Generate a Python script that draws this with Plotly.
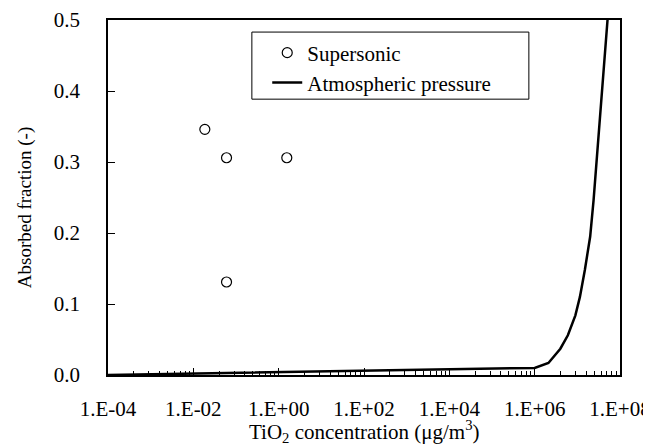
import plotly.graph_objects as go

# Supersonic measurements
sup_x = [0.0186, 0.06, 1.55, 0.06]
sup_y = [0.346, 0.306, 0.306, 0.131]

# Atmospheric pressure curve
atm_x = [1e-4, 1e-2, 1e0, 1e2, 1e4, 1e6, 2.1e6, 4e6, 6e6, 9e6, 1.15e7, 1.5e7, 2e7, 2.4e7, 5.1e7]
atm_y = [0.000, 0.002, 0.003, 0.005, 0.007, 0.010, 0.017, 0.037, 0.056, 0.084, 0.110, 0.148, 0.195, 0.246, 0.500]

x_tickvals = [1e-4, 1e-2, 1e0, 1e2, 1e4, 1e6, 1e8]
x_ticktext = ["1.E-04", "1.E-02", "1.E+00", "1.E+02", "1.E+04", "1.E+06", "1.E+08"]
minor_mult = [4, 9, 16, 25, 36, 49, 64, 81]
y_tickvals = [0.0, 0.1, 0.2, 0.3, 0.4, 0.5]
y_ticktext = ["0.0", "0.1", "0.2", "0.3", "0.4", "0.5"]

minor_vals = [m * v for v in x_tickvals[:-1] for m in minor_mult]

FONT = "Liberation Serif, Times New Roman, serif"

fig = go.Figure()
fig.add_trace(go.Scatter(
    x=sup_x, y=sup_y, mode="markers", name="Supersonic", legend="legend",
    marker=dict(symbol="circle-open", size=10, color="black", line=dict(width=1.2, color="black")),
))
fig.add_trace(go.Scatter(
    x=atm_x, y=atm_y, mode="lines", name="Atmospheric pressure", legend="legend2",
    line=dict(color="black", width=2.5),
))

leg_common = dict(xanchor="left", yanchor="middle", bgcolor="rgba(0,0,0,0)", borderwidth=0,
                  font=dict(family=FONT, size=21, color="black"), itemwidth=30)

# the page body adds an 8px offset, so the figure is 8px smaller on each leading edge
fig.update_layout(
    width=643, height=437,
    margin=dict(l=100, r=31, t=12, b=70, autoexpand=False),
    paper_bgcolor="white", plot_bgcolor="white",
    font=dict(family=FONT, size=19, color="black"),
    showlegend=True,
    legend=dict(x=0.311, y=0.907, **leg_common),
    legend2=dict(x=0.311, y=0.823, **leg_common),
    shapes=[dict(type="rect", xref="paper", yref="paper",
                 x0=0.281, x1=0.822, y0=0.777, y1=0.966,
                 line=dict(color="black", width=1), fillcolor="white", layer="below")],
    annotations=[
        dict(text="TiO<sub>2</sub> concentration (μg/m<sup>3</sup>)",
             xref="paper", yref="paper", x=0.5, y=-0.158,
             xanchor="center", yanchor="middle", showarrow=False,
             font=dict(family=FONT, size=21, color="black")),
        dict(text="Absorbed fraction (-)", textangle=-90,
             xref="paper", yref="paper", x=-0.162, y=0.47,
             xanchor="center", yanchor="middle", showarrow=False,
             font=dict(family=FONT, size=19, color="black")),
    ],
)

fig.update_xaxes(
    type="log", range=[-4, 8], automargin=False,
    tickmode="array", tickvals=x_tickvals, ticktext=x_ticktext,
    ticks="inside", ticklen=7, tickcolor="black", tickwidth=1,
    minor=dict(tickmode="array", tickvals=minor_vals, ticks="inside", ticklen=4,
               tickcolor="black", tickwidth=1),
    showline=True, linecolor="black", linewidth=1.5, mirror=True,
    showgrid=False, zeroline=False,
    ticklabelstandoff=14,
    tickfont=dict(family=FONT, size=21, color="black"),
)
fig.update_yaxes(
    range=[0, 0.5], automargin=False,
    tickmode="array", tickvals=y_tickvals, ticktext=y_ticktext,
    ticks="inside", ticklen=7, tickcolor="black", tickwidth=1,
    showline=True, linecolor="black", linewidth=1.5, mirror=True,
    showgrid=False, zeroline=False,
    ticklabelstandoff=22,
    tickfont=dict(family=FONT, size=21, color="black"),
)

fig.write_html("out.html")
